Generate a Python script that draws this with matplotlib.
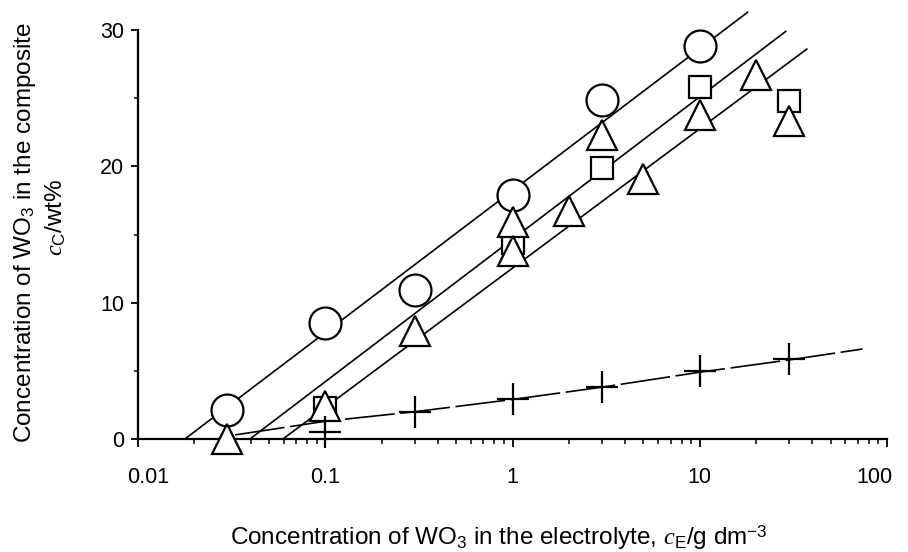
import matplotlib
matplotlib.use("Agg")
import matplotlib.pyplot as plt
from matplotlib.transforms import ScaledTranslation
from matplotlib.ticker import FixedLocator, NullFormatter

plt.rcParams['font.family'] = ['Liberation Sans', 'DejaVu Sans']
plt.rcParams['mathtext.fontset'] = 'custom'
plt.rcParams['mathtext.rm'] = 'Liberation Sans'
plt.rcParams['mathtext.it'] = 'Liberation Serif:italic'
plt.rcParams['mathtext.bf'] = 'Liberation Sans:bold'
plt.rcParams['lines.scale_dashes'] = False

# ---- data ----
circle_x = [0.03, 0.1, 0.3, 1, 3, 10]
circle_y = [2.1, 8.5, 10.9, 17.9, 24.9, 28.8]
square_x = [0.1, 1, 3, 10, 30]
square_y = [2.3, 14.4, 19.9, 25.8, 24.8]
triangle_x = [0.03, 0.1, 0.3, 1, 1, 2, 3, 5, 10, 20, 30]
triangle_y = [0.0, 2.4, 7.9, 15.9, 13.8, 16.7, 22.3, 19.1, 23.8, 26.7, 23.3]
cross_x = [0.1, 0.3, 1, 3, 10, 30]
cross_y = [0.5, 2.0, 2.9, 3.8, 5.0, 5.9]

circle_fit_x = [0.0178, 18.0]
circle_fit_y = [0.0, 31.3]
square_fit_x = [0.0396, 28.8]
square_fit_y = [0.0, 29.9]
triangle_fit_x = [0.0594, 37.3]
triangle_fit_y = [0.0, 28.6]
cross_fit_x = [0.033, 0.1, 0.3, 1, 3, 10, 30, 74]
cross_fit_y = [0.3, 1.3, 2.0, 2.9, 3.8, 4.9, 5.8, 6.6]

x_ticks = [0.01, 0.1, 1, 10, 100]
x_tick_labels = ["0.01", "0.1", "1", "10", "100"]
y_ticks = [0, 10, 20, 30]
y_minor_ticks = [5, 15, 25]

fig = plt.figure(figsize=(9.08, 5.52), dpi=100)
W, H = 908, 552
ax = fig.add_axes([138 / W, 1 - 439 / H, (887 - 138) / W, (439 - 30) / H])
ax.set_xscale('log')
ax.set_xlim(0.01, 100)
ax.set_ylim(0, 30)

lw = 1.2
for fx, fy in [(circle_fit_x, circle_fit_y), (square_fit_x, square_fit_y),
               (triangle_fit_x, triangle_fit_y)]:
    ax.plot(fx, fy, color='black', lw=lw, zorder=2, clip_on=False)
ax.plot(cross_fit_x, cross_fit_y, color='black', lw=lw, zorder=2, clip_on=False,
        dashes=(36, 4))

mk = dict(linestyle='none', markerfacecolor='white', markeredgecolor='black',
          markeredgewidth=1.6, zorder=3, clip_on=False)
ax.plot(circle_x, circle_y, marker='o', markersize=23, **mk)
ax.plot(square_x, square_y, marker='s', markersize=15.5, **mk)
ax.plot(triangle_x, triangle_y, marker='^', markersize=21, **mk)
ax.plot(cross_x, cross_y, marker='+', markersize=23, linestyle='none',
        color='black', markeredgewidth=1.6, zorder=3, clip_on=False)

for s in ['top', 'right']:
    ax.spines[s].set_visible(False)
for s in ['left', 'bottom']:
    ax.spines[s].set_linewidth(1.6)

ax.xaxis.set_major_locator(FixedLocator(x_ticks))
ax.set_xticklabels(x_tick_labels)
ax.xaxis.set_minor_formatter(NullFormatter())
ax.set_yticks(y_ticks)
ax.yaxis.set_minor_locator(FixedLocator(y_minor_ticks))

ax.tick_params(axis='x', which='major', direction='out', length=6, width=1.3,
               labelsize=15.5, pad=14)
ax.tick_params(axis='x', which='minor', direction='out', length=3.5, width=1.1)
ax.tick_params(axis='y', which='major', direction='out', length=5, width=1.3,
               labelsize=15.5, pad=5)
ax.tick_params(axis='y', which='minor', direction='out', length=3, width=1.1)

fig.text(499 / W, 1 - 538 / H,
         r"Concentration of WO$_{3}$ in the electrolyte, $c_{\mathrm{E}}$/g dm$^{-3}$",
         ha='center', va='center', fontsize=17.5)
fig.text(25 / W, 1 - 233 / H, r"Concentration of WO$_{3}$ in the composite",
         ha='center', va='center', rotation=90, fontsize=17.5)
fig.text(56 / W, 1 - 217 / H, r"$c_{\mathrm{C}}$/wt%",
         ha='center', va='center', rotation=90, fontsize=17.5)

fig.canvas.draw()
labs = ax.get_xticklabels()
labs[0].set_transform(labs[0].get_transform() + ScaledTranslation(0.10, 0, fig.dpi_scale_trans))
labs[-1].set_transform(labs[-1].get_transform() + ScaledTranslation(-0.13, 0, fig.dpi_scale_trans))

fig.savefig("out.png", dpi=100)
